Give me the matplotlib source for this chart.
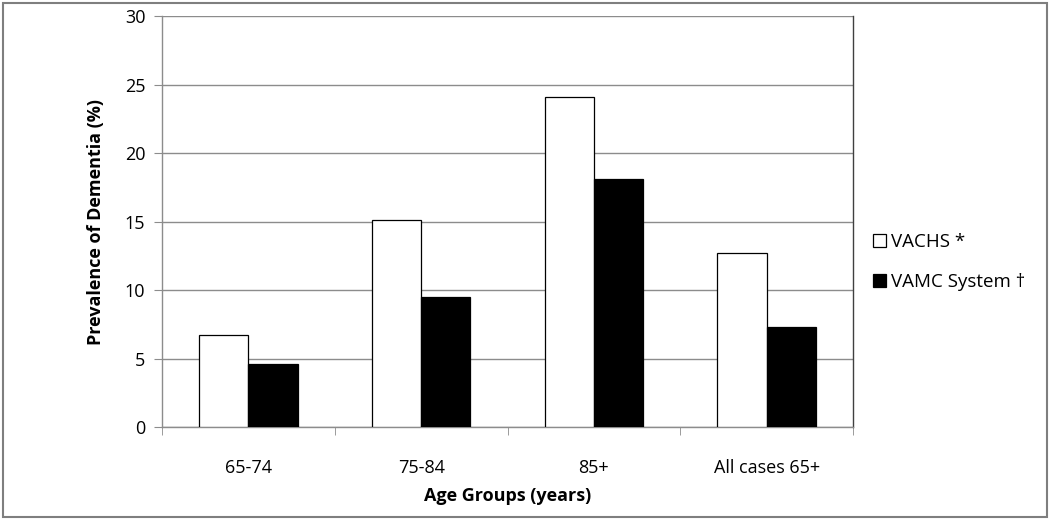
import numpy as np
import matplotlib
matplotlib.use('Agg')
import matplotlib.pyplot as plt
from matplotlib.patches import Rectangle

plt.rcParams['font.family'] = ['Open Sans', 'DejaVu Sans']

# Data
age_groups = ['65-74', '75-84', '85+', 'All cases 65+']
vachs = [6.7, 15.1, 24.1, 12.7]
vamc = [4.6, 9.5, 18.1, 7.3]
series_labels = ['VACHS *', 'VAMC System \u2020']
y_ticks = [0, 5, 10, 15, 20, 25, 30]

fig = plt.figure(figsize=(10.5, 5.2), dpi=100)
ax = fig.add_axes([0.1543, 0.1788, 0.6581, 0.7902])

x = np.arange(len(age_groups))
w = 0.285
ax.bar(x - w / 2, vachs, w, color='white', edgecolor='black', linewidth=0.9,
       label=series_labels[0], zorder=3)
ax.bar(x + w / 2, vamc, w, color='black', edgecolor='black', linewidth=0.9,
       label=series_labels[1], zorder=3)

ax.set_xlim(-0.5, len(age_groups) - 0.5)
ax.set_ylim(0, 30)
ax.set_yticks(y_ticks)
ax.set_yticklabels([str(t) for t in y_ticks], fontsize=13)
ax.yaxis.grid(True, color='#8c8c8c', linewidth=1.0, zorder=0)

# category labels centred, ticks on group boundaries
ax.set_xticks(x)
ax.set_xticklabels(age_groups, fontsize=13)
ax.tick_params(axis='x', length=0, pad=23)
ax.set_xticks(np.arange(len(age_groups) + 1) - 0.5, minor=True)
ax.tick_params(axis='x', which='minor', length=6, color='#8c8c8c', direction='out')
ax.tick_params(axis='y', length=6, color='#8c8c8c', direction='out', pad=6)

for side in ['left', 'bottom']:
    ax.spines[side].set_color('#8c8c8c')
    ax.spines[side].set_linewidth(1.0)
ax.spines['top'].set_visible(False)
ax.spines['right'].set_color('#404040')
ax.spines['right'].set_linewidth(1.0)

ax.set_ylabel('Prevalence of Dementia (%)', fontsize=13, fontweight='bold', labelpad=14)
ax.set_xlabel('Age Groups (years)', fontsize=13, fontweight='bold', labelpad=7)

fig.legend(loc='upper left', bbox_to_anchor=(0.815, 0.585), frameon=False,
           fontsize=13.5, handlelength=0.7, handleheight=0.7, handletextpad=0.3,
           labelspacing=1.2)

# outer chart border
fig.patches.append(Rectangle((0.003, 0.006), 0.994, 0.988, transform=fig.transFigure,
                             fill=False, edgecolor='#7f7f7f', linewidth=1.5))

fig.savefig('out.png', dpi=100)
